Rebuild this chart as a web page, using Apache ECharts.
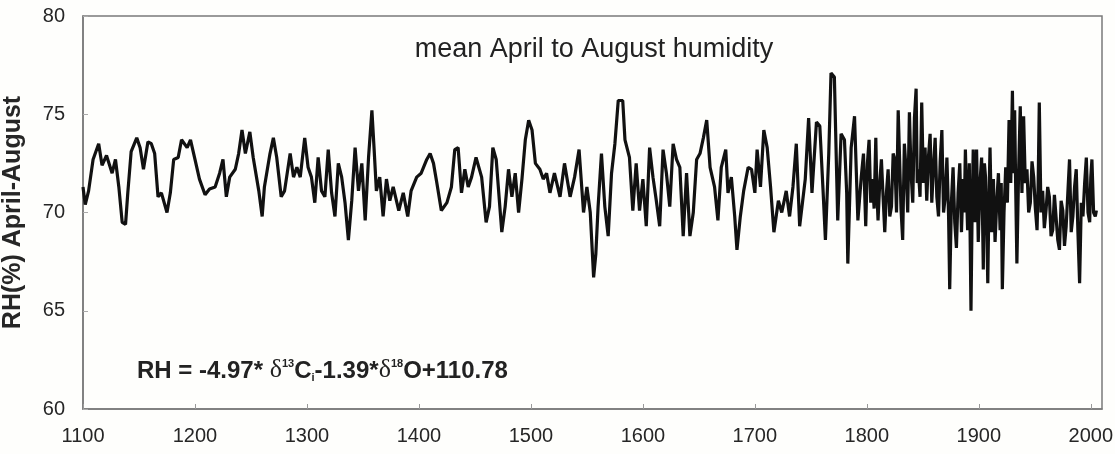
<!DOCTYPE html>
<html>
<head>
<meta charset="utf-8">
<script src="https://cdn.jsdelivr.net/npm/echarts@6/dist/echarts.min.js"></script>
<style>
html,body{margin:0;padding:0;background:#fefefc;}
#chart{width:1115px;height:454px;}
</style>
</head>
<body>
<div id="chart"></div>
<script>
const years = [
1100,1102,1105,1109,1114,1117,1121,1126,1129,1132,1135,1138,1140,1143,1148,1151,1154,1158,1161,1164,1167,1170,1175,1178,1181,1185,1188,1193,1196,1200,1204,1209,1213,1218,1222,1225,1228,1231,1236,1239,1242,1245,1249,1252,1257,1260,1262,1267,1270,1273,1277,
1280,1285,1288,1291,1294,1298,1301,1304,1307,1310,1313,1316,1319,1322,1325,1328,1331,1334,1337,1340,1343,1346,1349,1352,1355,1358,1360,1362,1365,1368,1371,1374,1377,1382,1386,1390,1393,1398,1402,1407,1410,1413,1416,1420,1425,1429,1432,1435,1438,1441,1444,1447,1451,1456,1460,
1463,1466,1469,1474,1477,1480,1483,1486,1489,1492,1495,1498,1501,1504,1508,1511,1514,1517,1521,1526,1530,1535,1539,1543,1547,1550,1553,1556,1558,1560,1563,1566,1569,1572,1575,1578,1582,1584,1588,1591,1594,1597,1600,1603,1606,1609,1612,1615,1618,1621,1624,1627,1630,1633,1636,1639,1642,1645,
1648,1651,1654,1657,1660,1664,1667,1670,1674,1676,1679,1682,1684,1687,1690,1694,1697,1700,1702,1705,1708,1711,1714,1717,1721,1724,1728,1731,1734,1737,1740,1745,1748,1751,1755,1758,1761,1763,1766,1768,1771,1774,1777,1780,1782,1783,1786,1789,1792,1795,1797,
1799,1800.5,1802,1803.5,1805,1806.5,1808,1809,1810,1811.5,1813,1814.5,1816,1817.5,1819,1820.5,1822,1823.5,1825,1826.5,1828,1829,1830.5,1832,1833.5,1835,1836.5,1838,1839.5,1841,1842.5,1844,1845,1846,1847.5,1849,1850.5,1852,1853.5,1855,1856.5,1858,1859.5,1861,1862.5,1864,1865.5,1867,1868.5,1870,1871.5,1873,1874,1875.5,1877,1878.5,1880,1881.5,1883,1884.5,1886,1887,1888,1889,1890,1891.5,1893,1894,1895,1896.5,1898,1899.5,
1901,1902.5,1904,1905,1906,1907,1908,1909,1910,1911.5,1913,1914.5,1916,1917.5,1919,1920,1921,1922.5,1924,1925.5,1927,1928.5,1930,1931,1932,1933,1934,1935.5,1937,1938.5,1940,1941.5,1943,1944.5,1946,1947.5,1949,1950.5,1952,1953,1954,1955.5,1957,1958.5,1960,1961.5,1963,1964.5,1966,1967.5,1969,1970.5,1972,1973.5,1975,1976.5,1978,1979.5,1981,1982.5,1984,1985.5,1987,1988.5,1990,1991.5,1993,1994.5,1996,1997.5,1999,2000,2001,2002.5,2004,2005
];
const rh = [
71.3,70.4,71.1,72.7,73.5,72.4,72.9,72.0,72.7,71.3,69.5,69.4,71.0,73.1,73.8,73.3,72.2,73.6,73.5,73.0,70.8,71.0,70.0,71.0,72.7,72.8,73.7,73.3,73.7,72.7,71.7,70.9,71.2,71.3,72.0,72.7,70.8,71.8,72.2,73.0,74.2,73.0,74.1,72.8,71.1,69.8,71.3,73.0,73.8,72.8,70.8,
71.1,73.0,71.8,72.3,71.8,73.8,72.3,71.8,70.5,72.8,71.1,70.8,73.2,71.0,69.8,72.5,71.8,70.5,68.6,70.6,73.3,71.1,72.5,69.6,72.8,75.2,73.2,71.1,71.8,69.8,71.7,70.6,71.3,70.1,71.0,69.8,71.1,71.8,72.0,72.7,73.0,72.5,71.5,70.1,70.5,71.3,73.2,73.3,71.0,72.2,71.3,71.8,72.8,71.8,69.5,
70.3,73.3,72.7,69.0,70.3,72.2,70.8,72.0,70.0,71.7,73.7,74.7,74.2,72.5,72.2,71.7,72.0,71.0,72.0,70.8,72.5,70.8,71.8,73.2,70.0,71.3,70.0,66.7,67.9,70.3,73.0,70.3,68.8,72.0,73.5,75.7,75.7,73.7,72.8,70.1,72.5,70.1,71.7,69.3,73.3,71.8,70.6,69.3,73.2,72.0,70.3,73.5,72.7,72.3,68.8,72.0,68.8,70.0,
72.7,73.0,73.8,74.7,72.3,71.3,69.6,72.3,73.2,71.0,71.8,69.8,68.1,69.8,71.1,72.3,72.2,71.0,73.2,71.3,74.2,73.3,71.3,69.0,70.6,70.0,71.1,69.8,71.3,73.5,69.3,71.7,74.8,71.0,74.6,74.4,71.0,68.6,73.0,77.1,76.9,69.6,74.0,73.7,71.0,67.4,73.3,74.9,69.6,71.8,73.0,
69.3,72.5,73.7,70.5,71.7,70.2,73.8,71.0,69.6,71.5,72.7,70.8,69.0,71.0,72.2,69.8,70.3,73.0,72.7,70.0,75.2,75.1,70.2,68.6,73.5,72.2,70.0,75.1,72.0,70.5,74.8,76.3,71.5,72.2,70.8,75.6,71.5,73.3,70.6,72.8,74.0,70.5,72.3,73.8,70.8,69.8,72.6,74.2,70.0,70.8,72.8,69.8,66.1,70.5,72.3,69.5,68.2,71.0,72.5,69.0,71.7,70.0,73.2,71.0,69.1,72.5,65.0,70.0,73.2,69.5,73.2,68.5,
71.5,72.8,67.1,72.5,71.8,69.5,66.4,70.5,73.3,69.0,71.7,68.5,70.5,72.0,69.1,71.5,66.1,70.0,72.3,70.5,74.7,71.5,76.2,72.0,75.2,71.0,67.4,72.0,75.4,71.0,74.9,71.5,72.2,70.0,70.5,72.6,71.8,70.2,69.1,71.5,75.6,70.0,71.1,69.2,70.1,71.3,70.8,68.8,69.1,70.9,70.8,68.6,68.1,70.6,70.1,68.3,69.3,71.0,72.7,69.0,69.8,71.3,72.2,69.0,66.4,70.5,69.8,71.5,72.8,70.0,69.5,71.8,72.7,70.0,69.8,70.1
];
const xTicks = [1100,1200,1300,1400,1500,1600,1700,1800,1900,2000];
const yTicks = [60,65,70,75,80];
const titleText = 'mean April to August humidity';
const yName = 'RH(%) April-August';

const FONT = 'Liberation Sans, Arial, sans-serif';
const chart = echarts.init(document.getElementById('chart'));
const data = years.map((y,i)=>[y, rh[i]]);
chart.setOption({
  backgroundColor: '#fefefc',
  animation: false,
  grid: {left: 83, right: 13, top: 16, bottom: 45, outerBoundsMode: 'none', containLabel: false,
    show: true, borderColor: '#7a7a7a', borderWidth: 1.5, backgroundColor: 'transparent'},
  xAxis: {
    type: 'value', min: 1100, max: 2010, interval: 100,
    axisLine: {show: true, lineStyle: {color: '#7a7a7a', width: 1.5}},
    axisTick: {show: true, inside: true, length: 5, lineStyle: {color: '#999'}},
    splitLine: {show: false},
    axisLabel: {showMaxLabel: false, margin: 17, fontSize: 20, color: '#262626', fontFamily: FONT,
      formatter: v => xTicks.includes(v) ? String(v) : ''}
  },
  yAxis: {
    type: 'value', min: 60, max: 80, interval: 5,
    name: yName, nameLocation: 'middle', nameGap: 57, nameRotate: 90,
    nameTextStyle: {fontSize: 25, fontWeight: 'bold', color: '#262626', fontFamily: FONT},
    axisLine: {show: true, lineStyle: {color: '#7a7a7a', width: 1.5}},
    axisTick: {show: true, inside: true, length: 5, lineStyle: {color: '#aaa'}},
    splitLine: {show: false},
    axisLabel: {margin: 18, fontSize: 20, color: '#262626', fontFamily: FONT,
      formatter: v => yTicks.includes(v) ? String(v) : ''}
  },
  graphic: [
    {type: 'text', x: 594, y: 50, style: {text: titleText, fontSize: 27, fill: '#222', fontFamily: FONT, textAlign: 'center', textVerticalAlign: 'middle'}},
    {type: 'text', x: 137, y: 368, style: {
      textVerticalAlign: 'middle',
      text: '{b|RH = -4.97* }{d|δ}{sup|13}{b|C}{sub|i}{b|-1.39*}{d|δ}{sup|18}{b|O+110.78}',
      rich: {
        b: {fontSize: 24, fontWeight: 'bold', fill: '#222', fontFamily: FONT, lineHeight: 30, verticalAlign: 'bottom'},
        d: {fontSize: 26, fill: '#222', fontFamily: 'Liberation Serif, Times New Roman, serif', lineHeight: 30, verticalAlign: 'bottom'},
        sup: {fontSize: 11, fontWeight: 'bold', fill: '#222', fontFamily: FONT, lineHeight: 30, verticalAlign: 'top', padding: [5,0,0,0]},
        sub: {fontSize: 11, fontWeight: 'bold', fill: '#222', fontFamily: FONT, lineHeight: 30, verticalAlign: 'bottom'}
      }
    }}
  ],
  series: [{
    type: 'line', data: data, showSymbol: false, symbol: 'none',
    lineStyle: {color: '#111', width: 3.2}
  }]
});
</script>
</body>
</html>
